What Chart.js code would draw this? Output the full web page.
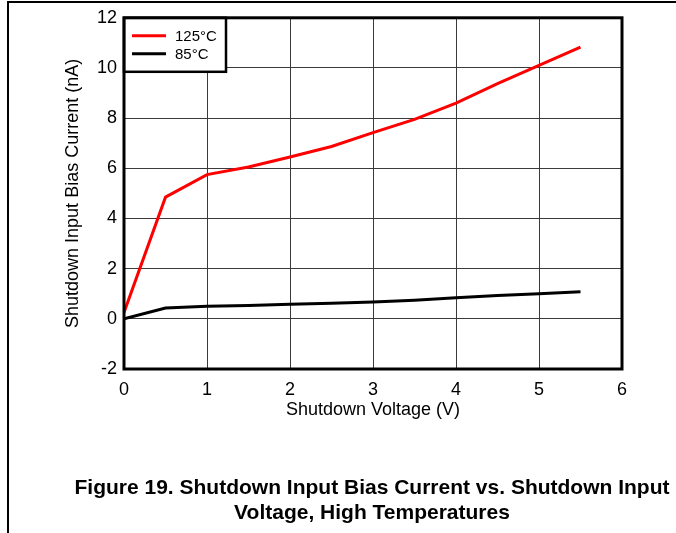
<!DOCTYPE html>
<html lang="en">
<head>
    <meta charset="UTF-8">
    <title>Shutdown Input Bias Current vs. Shutdown Input Voltage</title>
    <style>
        body {
            margin: 0;
            background: #ffffff;
            font-family: "Liberation Sans", Arial, sans-serif;
        }

        .page {
            position: relative;
            width: 676px;
            height: 533px;
            overflow: hidden;
        }

        .frame {
            position: absolute;
            left: 7px;
            top: 1px;
            width: 680px;
            height: 540px;
            border-left: 2px solid #000;
            border-top: 2px solid #000;
        }

        #chart {
            position: absolute;
            left: 0;
            top: 0;
        }

        .caption {
            position: absolute;
            left: 60px;
            width: 624px;
            top: 474px;
            text-align: center;
            font-weight: bold;
            font-size: 21px;
            line-height: 25px;
            color: #000;
            white-space: nowrap;
        }
    </style>
    <script src="https://cdn.jsdelivr.net/npm/chart.js"></script>
</head>
<body>
    <div class="page">
        <div class="frame"></div>
        <canvas id="chart" width="676" height="533"></canvas>
        <div class="caption">Figure 19. Shutdown Input Bias Current vs. Shutdown Input<br>Voltage, High Temperatures</div>
    </div>
    <script>
        // values
        const voltage = [0, 0.5, 1, 1.5, 2, 2.5, 3, 3.5, 4, 4.5, 5, 5.5];
        const current125 = [0.25, 4.85, 5.75, 6.05, 6.45, 6.87, 7.42, 7.95, 8.6, 9.38, 10.1, 10.83];
        const current85 = [0, 0.43, 0.5, 0.53, 0.58, 0.62, 0.67, 0.74, 0.84, 0.93, 1.0, 1.08];
        const seriesLabels = ['125°C', '85°C'];
        const xTitle = 'Shutdown Voltage (V)';
        const yTitle = 'Shutdown Input Bias Current (nA)';

        const FONT = '"Liberation Sans", Arial, sans-serif';

        const toPoints = (ys) => voltage.map((v, i) => ({ x: v, y: ys[i] }));

        // legend box + heavy plot frame, drawn over the grid
        const boxPlugin = {
            id: 'boxPlugin',
            afterDatasetsDraw(chart) {
                const ctx = chart.ctx;
                const a = chart.chartArea;
                ctx.save();

                const lx = a.left, ly = a.top, lw = 102, lh = 54;
                ctx.fillStyle = '#fff';
                ctx.fillRect(lx, ly, lw, lh);
                ctx.strokeStyle = '#000';
                ctx.lineWidth = 2.5;
                ctx.strokeRect(lx, ly, lw, lh);

                ctx.font = '15px ' + FONT;
                ctx.textBaseline = 'middle';
                chart.data.datasets.forEach((ds, i) => {
                    const y = ly + 18 + i * 18;
                    ctx.strokeStyle = ds.borderColor;
                    ctx.lineWidth = 3;
                    ctx.beginPath();
                    ctx.moveTo(lx + 8, y);
                    ctx.lineTo(lx + 42, y);
                    ctx.stroke();
                    ctx.fillStyle = '#000';
                    ctx.fillText(ds.label, lx + 51, y + 1);
                });

                ctx.strokeStyle = '#000';
                ctx.lineWidth = 3;
                ctx.strokeRect(a.left, a.top, a.right - a.left, a.bottom - a.top);
                ctx.restore();
            }
        };

        new Chart(document.getElementById('chart'), {
            type: 'line',
            data: {
                datasets: [
                    {
                        label: seriesLabels[0],
                        data: toPoints(current125),
                        borderColor: '#ff0000',
                        borderWidth: 3,
                        pointRadius: 0,
                        tension: 0
                    },
                    {
                        label: seriesLabels[1],
                        data: toPoints(current85),
                        borderColor: '#000000',
                        borderWidth: 3,
                        pointRadius: 0,
                        tension: 0
                    }
                ]
            },
            options: {
                responsive: false,
                animation: false,
                layout: {
                    padding: { top: 15, right: 54, left: 0, bottom: 108 }
                },
                plugins: {
                    legend: { display: false },
                    tooltip: { enabled: false }
                },
                scales: {
                    x: {
                        type: 'linear',
                        min: 0,
                        max: 6,
                        afterFit: (scale) => { scale.height = 56; },
                        ticks: {
                            stepSize: 1,
                            padding: 10,
                            color: '#000',
                            font: { family: FONT, size: 18 }
                        },
                        grid: { color: '#3a3a3a', lineWidth: 1, drawTicks: false },
                        border: { display: false },
                        title: {
                            display: true,
                            text: xTitle,
                            color: '#000',
                            font: { family: FONT, size: 18 },
                            padding: { top: 0, bottom: 4 }
                        }
                    },
                    y: {
                        min: -2,
                        max: 12,
                        afterFit: (scale) => { scale.width = 124; },
                        ticks: {
                            stepSize: 2,
                            padding: 7,
                            color: '#000',
                            font: { family: FONT, size: 18 }
                        },
                        grid: { color: '#3a3a3a', lineWidth: 1, drawTicks: false },
                        border: { display: false },
                        title: {
                            display: true,
                            text: yTitle,
                            color: '#000',
                            font: { family: FONT, size: 18 },
                            padding: { top: 62, bottom: 0 }
                        }
                    }
                }
            },
            plugins: [boxPlugin]
        });
    </script>
</body>
</html>
